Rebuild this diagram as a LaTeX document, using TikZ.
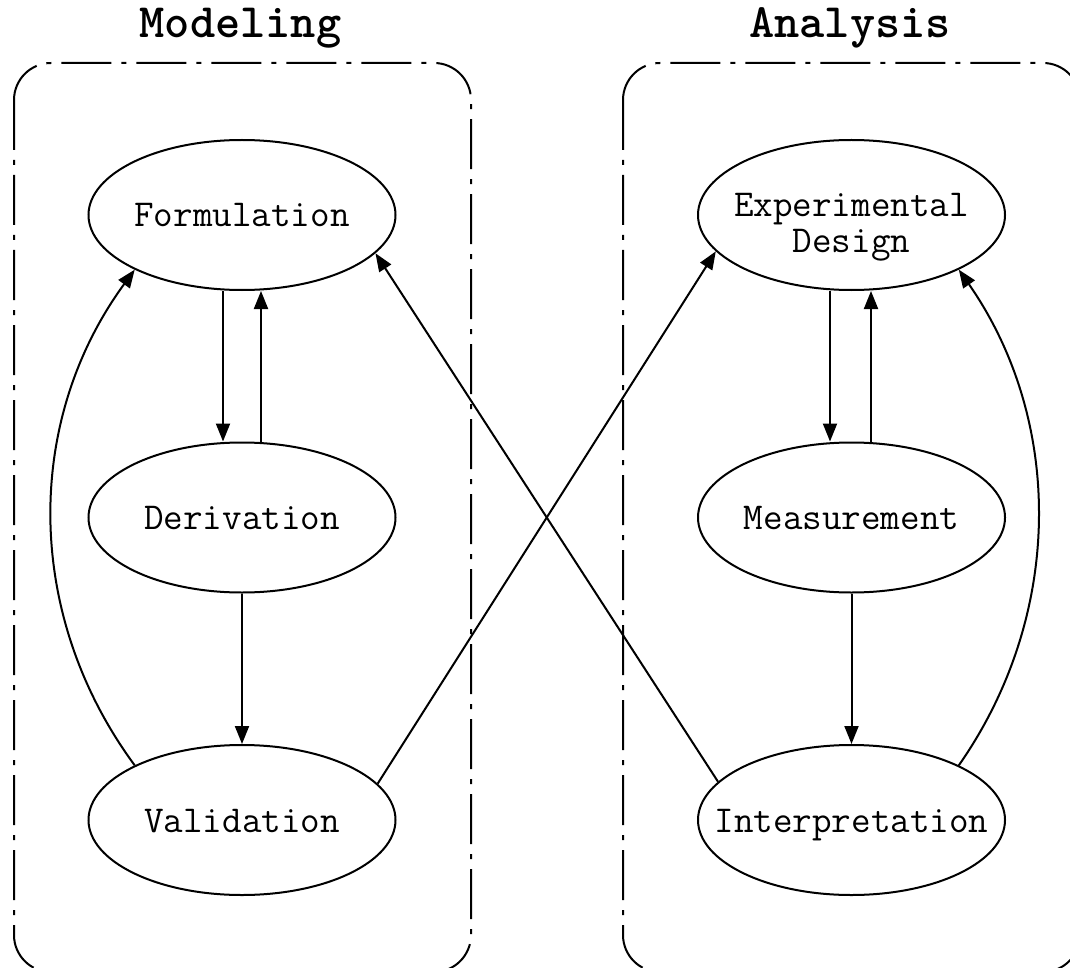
\documentclass[tikz,border=0pt]{standalone}
\usepackage{fontspec}
\usetikzlibrary{arrows.meta,shapes.geometric}

\tikzset{
  x=1pt, y=-1pt,
  stage/.style={draw, ellipse, line width=2pt, minimum width=307pt,
    minimum height=150pt, inner sep=0pt},
  stagetext/.style={inner sep=0pt, text height=26pt, text depth=2pt,
    font=\ttfamily\fontsize{38}{36}\selectfont},
  grouptitle/.style={anchor=base, inner sep=0pt,
    font=\ttfamily\bfseries\fontsize{48}{50}\selectfont},
  groupbox/.style={draw, line width=2pt, rounded corners=37pt,
    dash pattern=on 50pt off 10pt on 5pt off 10pt},
  flow/.style={line width=2pt, -{Triangle[length=18pt,width=14pt]}}
}

\begin{document}
\begin{tikzpicture}
\useasboundingbox (0,0) rectangle (1070,968);
\clip (0,0) rectangle (1070,968);

% group frames and their titles
\draw[groupbox] (14,63) rectangle (471,972);
\draw[groupbox] (623,63) rectangle (1080,972);
\node[grouptitle] (modt) at (240.5,38) {Modeling};
\node[grouptitle] (anat) at (850,38) {Analysis};

% modeling stages
\node[stage, label={[stagetext]center:Formulation}] (form) at (242,215) {};
\node[stage, label={[stagetext]center:Derivation}] (deriv) at (242,517.5) {};
\node[stage, label={[stagetext]center:Validation}] (valid) at (242,820) {};

% analysis stages
\node[stage, label={[stagetext, yshift=10pt]center:{\begin{tabular}[t]{@{}c@{}}Experimental\\Design\end{tabular}}}] (expd) at (851.5,215) {};
\node[stage, label={[stagetext]center:Measurement}] (meas) at (851.5,517.5) {};
\node[stage, label={[stagetext]center:Interpretation}] (interp) at (851.5,820) {};

% vertical flows
\draw[flow] ([xshift=-19pt]form.south) -- ([xshift=-19pt]deriv.north);
\draw[flow] ([xshift=19pt]deriv.north) -- ([xshift=19pt]form.south);
\draw[flow] (deriv.south) -- (valid.north);
\draw[flow] ([xshift=-21.5pt]expd.south) -- ([xshift=-21.5pt]meas.north);
\draw[flow] ([xshift=19.5pt]meas.north) -- ([xshift=19.5pt]expd.south);
\draw[flow] (meas.south) -- (interp.north);

% feedback loops
\draw[flow] (valid.153) .. controls (24,615) and (24,421) .. (form.207);
\draw[flow] (interp.27) .. controls (1064,615) and (1064,421) .. (expd.333);

% cross links
\draw[flow] (valid.15.7) -- (expd.195.8);
\draw[flow] (interp.164.1) -- (form.344.2);
\end{tikzpicture}
\end{document}
